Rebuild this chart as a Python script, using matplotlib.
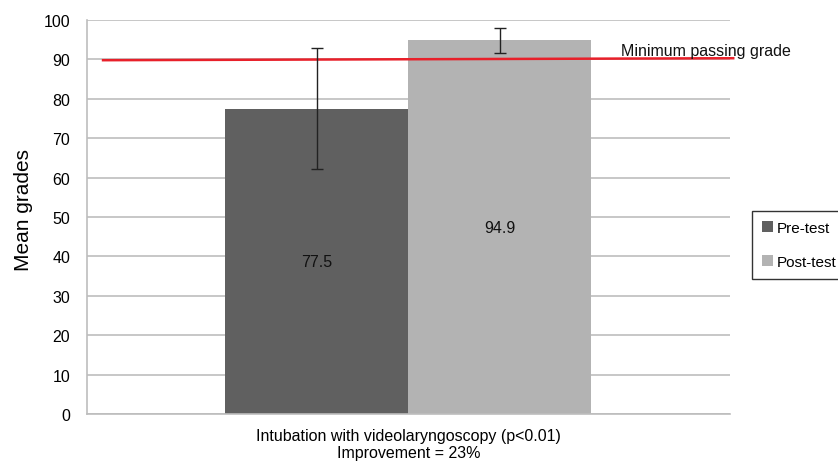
import matplotlib
matplotlib.use("Agg")
import matplotlib.pyplot as plt
import numpy as np

plt.rcParams['font.family'] = ['Liberation Sans', 'DejaVu Sans']

series = ["Pre-test", "Post-test"]
means = [77.5, 94.9]
errors = [15.4, 3.2]
value_labels = ["77.5", "94.9"]
colors = ["#606060", "#b3b3b3"]
category = "Intubation with videolaryngoscopy (p<0.01)\nImprovement = 23%"
passing_grade = [89.8, 90.3]
passing_label = "Minimum passing grade"
yticks = list(range(0, 101, 10))

fig = plt.figure(figsize=(8.38, 4.64), dpi=100)
ax = fig.add_axes([0.1038, 0.1056, 0.7673, 0.8491])

width = 0.2846
offsets = [-width / 2, width / 2]
for i in range(len(series)):
    ax.bar(offsets[i], means[i], width=width, color=colors[i], label=series[i], zorder=2)
    ax.errorbar(offsets[i], means[i], yerr=errors[i], fmt='none', ecolor='#222222',
                elinewidth=1, capsize=4.5, capthick=1, zorder=4)
    ax.text(offsets[i], means[i] / 2, value_labels[i], ha='center', va='center',
            fontsize=11.5, color='#111111', zorder=5)

ax.plot([-0.475, 0.505], passing_grade, color='#e8202a', lw=1.8, zorder=3, clip_on=False)
ax.text(0.33, 92.3, passing_label, fontsize=11.5, color='#111111', ha='left', va='center')

ax.set_xlim(-0.5, 0.5)
ax.set_ylim(0, 100)
ax.set_yticks(yticks)
ax.set_xticks([0])
ax.set_xticklabels([category], fontsize=11.5, linespacing=1.15)
ax.tick_params(axis='x', length=0, pad=10)
ax.tick_params(axis='y', length=0, pad=12, labelsize=11.5)
ax.yaxis.grid(True, color='#bdbdbd', lw=1.2, zorder=0)
ax.set_axisbelow(True)
for s in ['top', 'right']:
    ax.spines[s].set_visible(False)
for s in ['left', 'bottom']:
    ax.spines[s].set_color('#bdbdbd')
    ax.spines[s].set_linewidth(1.2)
ax.set_ylabel("Mean grades", fontsize=15)
ax.yaxis.set_label_coords(-0.084, 0.52)

leg = fig.legend(loc='upper left', bbox_to_anchor=(752 / 838, 1 - 212 / 464),
                 fontsize=11, frameon=True, fancybox=False, edgecolor='black',
                 handlelength=0.75, handleheight=0.75, handletextpad=0.25,
                 labelspacing=1.3, borderpad=0.65, borderaxespad=0)
leg.get_frame().set_linewidth(1.0)

fig.savefig("out.png", dpi=100)
